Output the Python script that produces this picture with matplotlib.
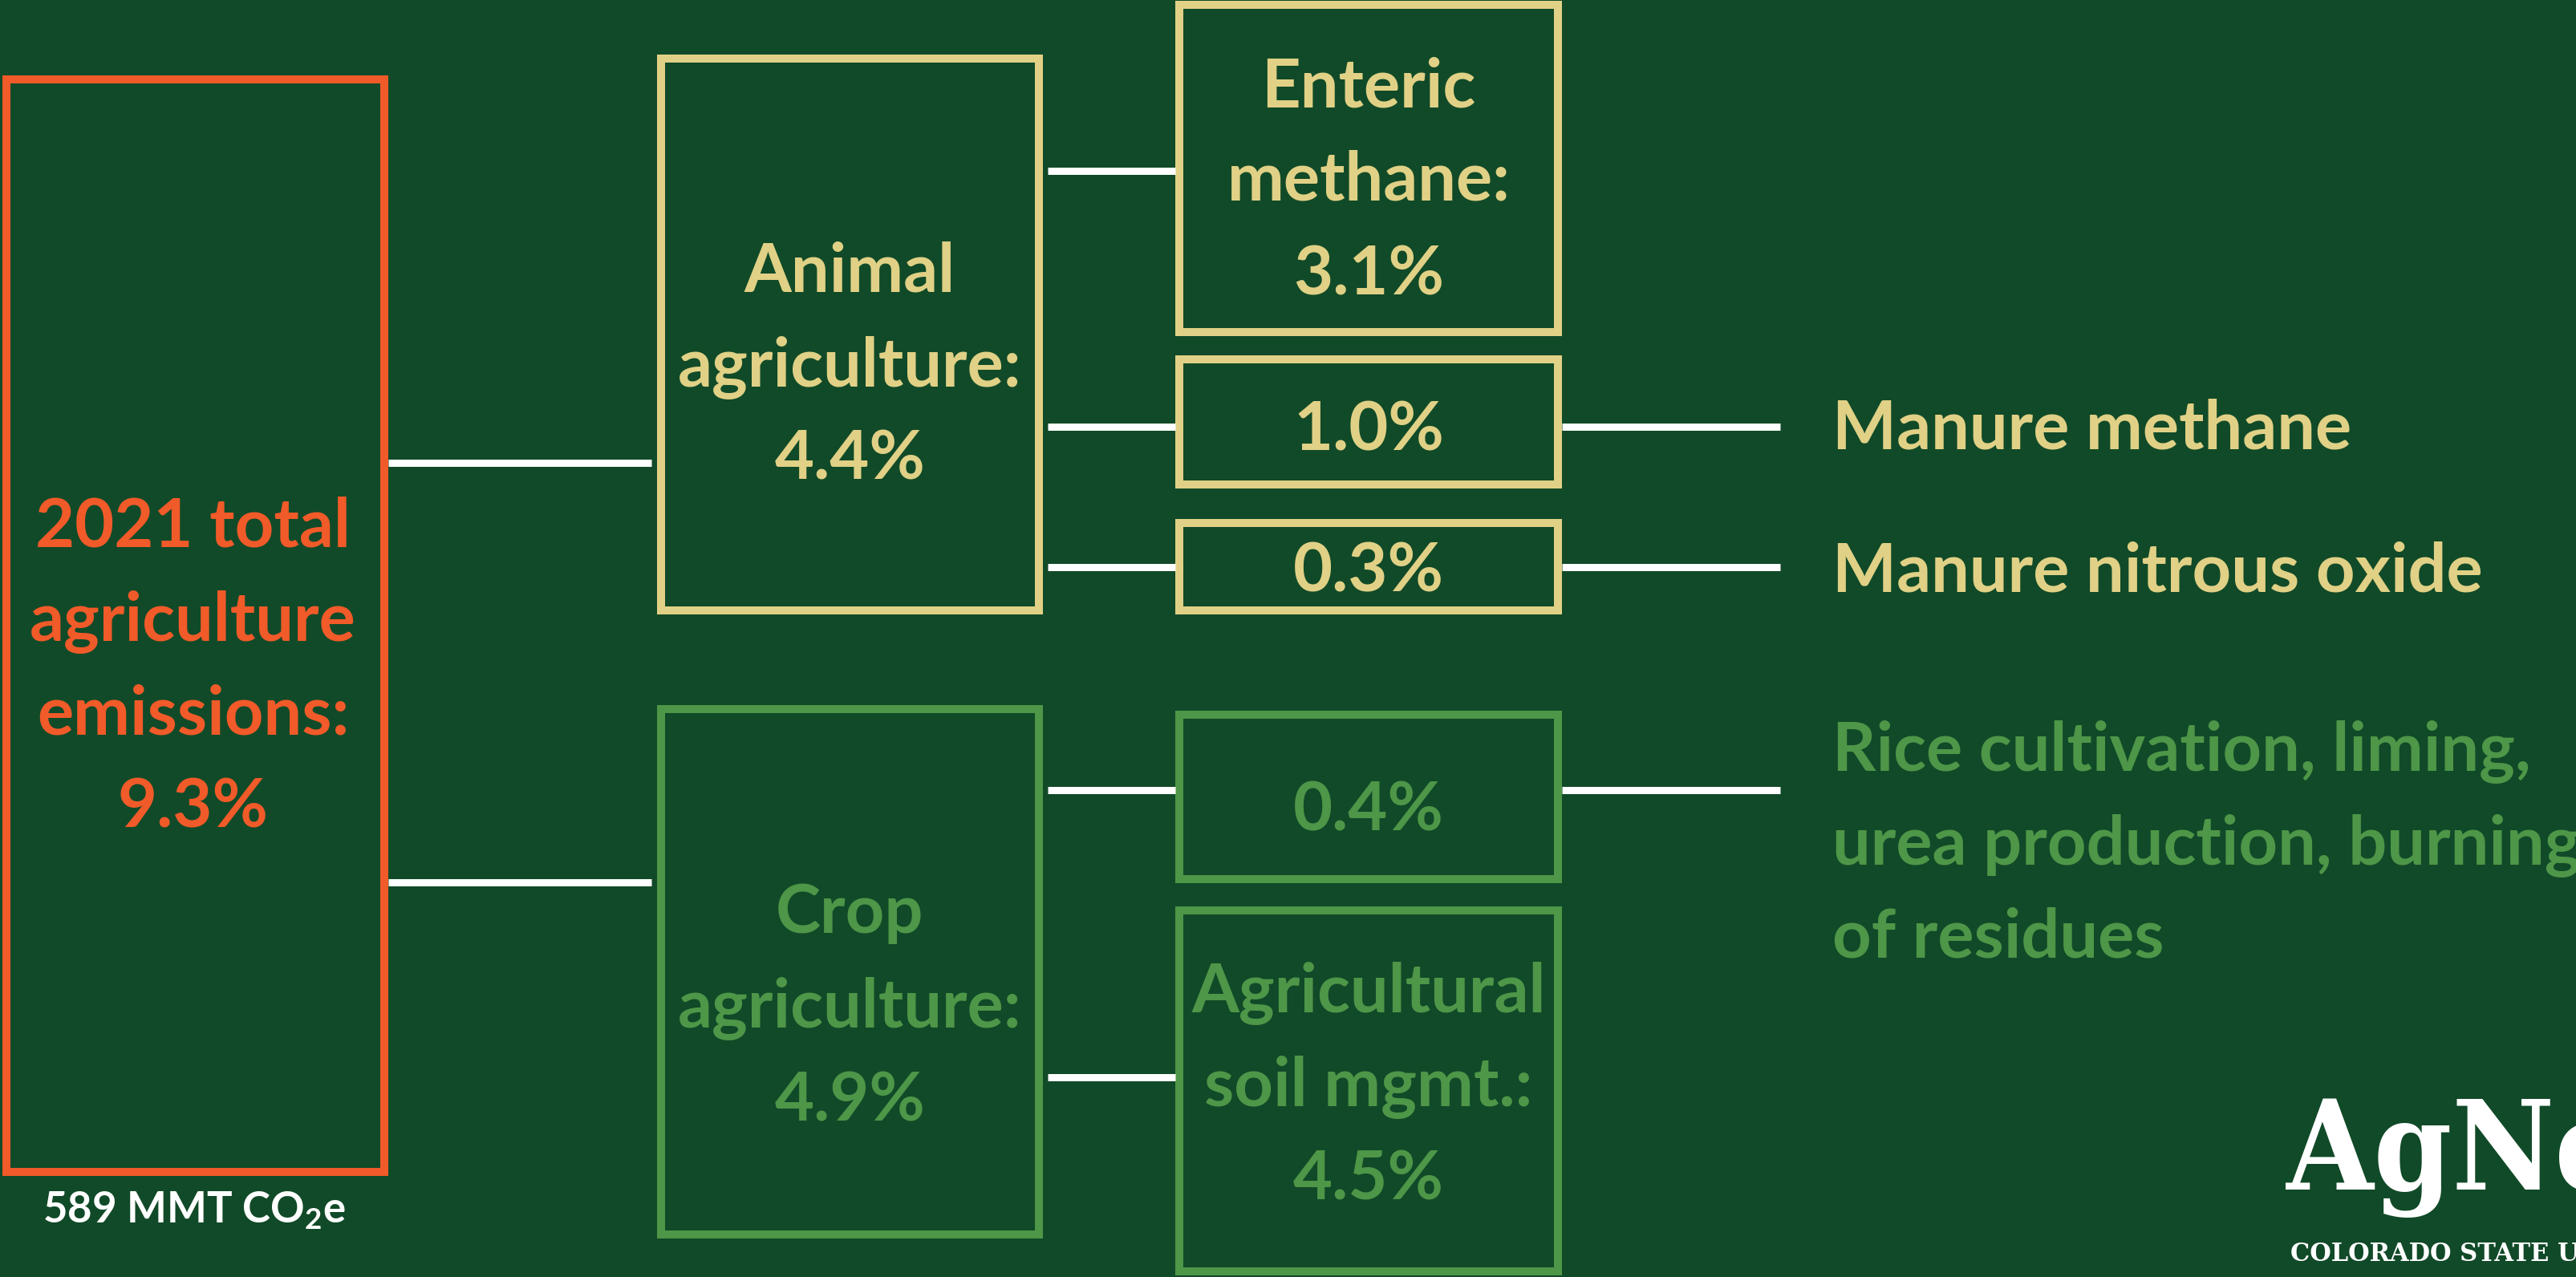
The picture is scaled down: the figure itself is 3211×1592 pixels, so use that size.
import matplotlib
matplotlib.use('Agg')
import matplotlib.pyplot as plt
from matplotlib.patches import Rectangle

plt.rcParams['font.family'] = ['Lato', 'DejaVu Sans']
plt.rcParams['mathtext.fontset'] = 'custom'
plt.rcParams['mathtext.rm'] = 'Lato:bold'
plt.rcParams['mathtext.it'] = 'Lato:bold'

# colours
BG = '#114a28'
ORANGE = '#f15a29'
TAN = '#e0d186'
GREEN = '#4e9648'
WHITE = '#ffffff'

# data (shares of 2021 US emissions)
total_label = ['2021 total', 'agriculture', 'emissions:', '9.3%']
total_mmt = r'589 MMT CO$_2$e'
group_names = ['Animal\nagriculture:', 'Crop\nagriculture:']
group_share = ['4.4%', '4.9%']
sub_names = ['Enteric\nmethane:', '', '', '', 'Agricultural\nsoil mgmt.:']
sub_share = ['3.1%', '1.0%', '0.3%', '0.4%', '4.5%']
sub_group = [0, 0, 0, 1, 1]
side_labels = ['', 'Manure methane', 'Manure nitrous oxide',
               'Rice cultivation, liming,\nurea production, burning\nof residues', '']

# layout, in pixels of the 3211x1592 canvas (y down)
W, H = 3211, 1592
LW = 10
FS = 61
LINE = 117
total_box = (3, 94, 484, 1466)
group_box = [(819, 68, 1300, 766), (819, 879, 1300, 1544)]
group_base = [364, 1163]
group_link = [577, 1100]
sub_box = [(1465, 1, 1947, 419), (1465, 443, 1947, 609), (1465, 647, 1947, 766),
           (1465, 886, 1947, 1101), (1465, 1130, 1947, 1590)]
sub_base = [133, 562, 737, 1035, 1261]
sub_link = [213, 532, 707, 985, 1343]
side_base = [0, 559, 738, 960, 0]

fig = plt.figure(figsize=(W / 100, H / 100), dpi=100)
fig.patch.set_facecolor(BG)
ax = fig.add_axes([0, 0, 1, 1])
ax.set_xlim(0, W)
ax.set_ylim(H, 0)
ax.axis('off')


def box(b, color):
    x0, y0, x1, y1 = b
    h = LW / 2
    ax.add_patch(Rectangle((x0 + h, y0 + h), x1 - x0 - LW, y1 - y0 - LW,
                           fill=False, edgecolor=color, linewidth=LW * 0.72,
                           joinstyle='miter'))


def link(xa, xb, y):
    ax.plot([xa, xb], [y, y], color=WHITE, lw=9 * 0.72, solid_capstyle='butt')


def lines(x, base, txt, color, ha='center', size=FS):
    for i, s in enumerate(txt.split('\n')):
        ax.text(x, base + i * LINE, s, color=color, fontsize=size,
                fontweight='bold', ha=ha, va='baseline')


# total box
box(total_box, ORANGE)
lines((total_box[0] + total_box[2]) / 2 - 3, 681, '\n'.join(total_label), ORANGE)
ax.text(242, 1525, total_mmt, color=WHITE, fontsize=38, fontweight='bold',
        ha='center', va='baseline')

# groups
gcol = [TAN, GREEN]
for g in range(2):
    box(group_box[g], gcol[g])
    cx = (group_box[g][0] + group_box[g][2]) / 2
    lines(cx, group_base[g], group_names[g] + '\n' + group_share[g], gcol[g])
    link(total_box[2], group_box[g][0] - 7, group_link[g])

# sub categories
for i in range(len(sub_share)):
    c = gcol[sub_group[i]]
    box(sub_box[i], c)
    cx = (sub_box[i][0] + sub_box[i][2]) / 2
    txt = (sub_names[i] + '\n' if sub_names[i] else '') + sub_share[i]
    lines(cx, sub_base[i], txt, c)
    link(group_box[sub_group[i]][2] + 6, sub_box[i][0], sub_link[i])
    if side_labels[i]:
        link(sub_box[i][2], 2219, sub_link[i])
        lines(2284, side_base[i], side_labels[i], c, ha='left')

# logo
ax.text(2850, 1483, 'AgNews', color=WHITE, fontsize=112, fontweight='bold',
        family='DejaVu Serif', fontstretch='condensed', ha='left', va='baseline')
ax.text(2855, 1572, 'COLORADO STATE UNIVERSITY', color=WHITE, fontsize=22,
        fontweight='bold', family='DejaVu Serif', ha='left', va='baseline')

fig.savefig('out.png', dpi=100, facecolor=BG)
